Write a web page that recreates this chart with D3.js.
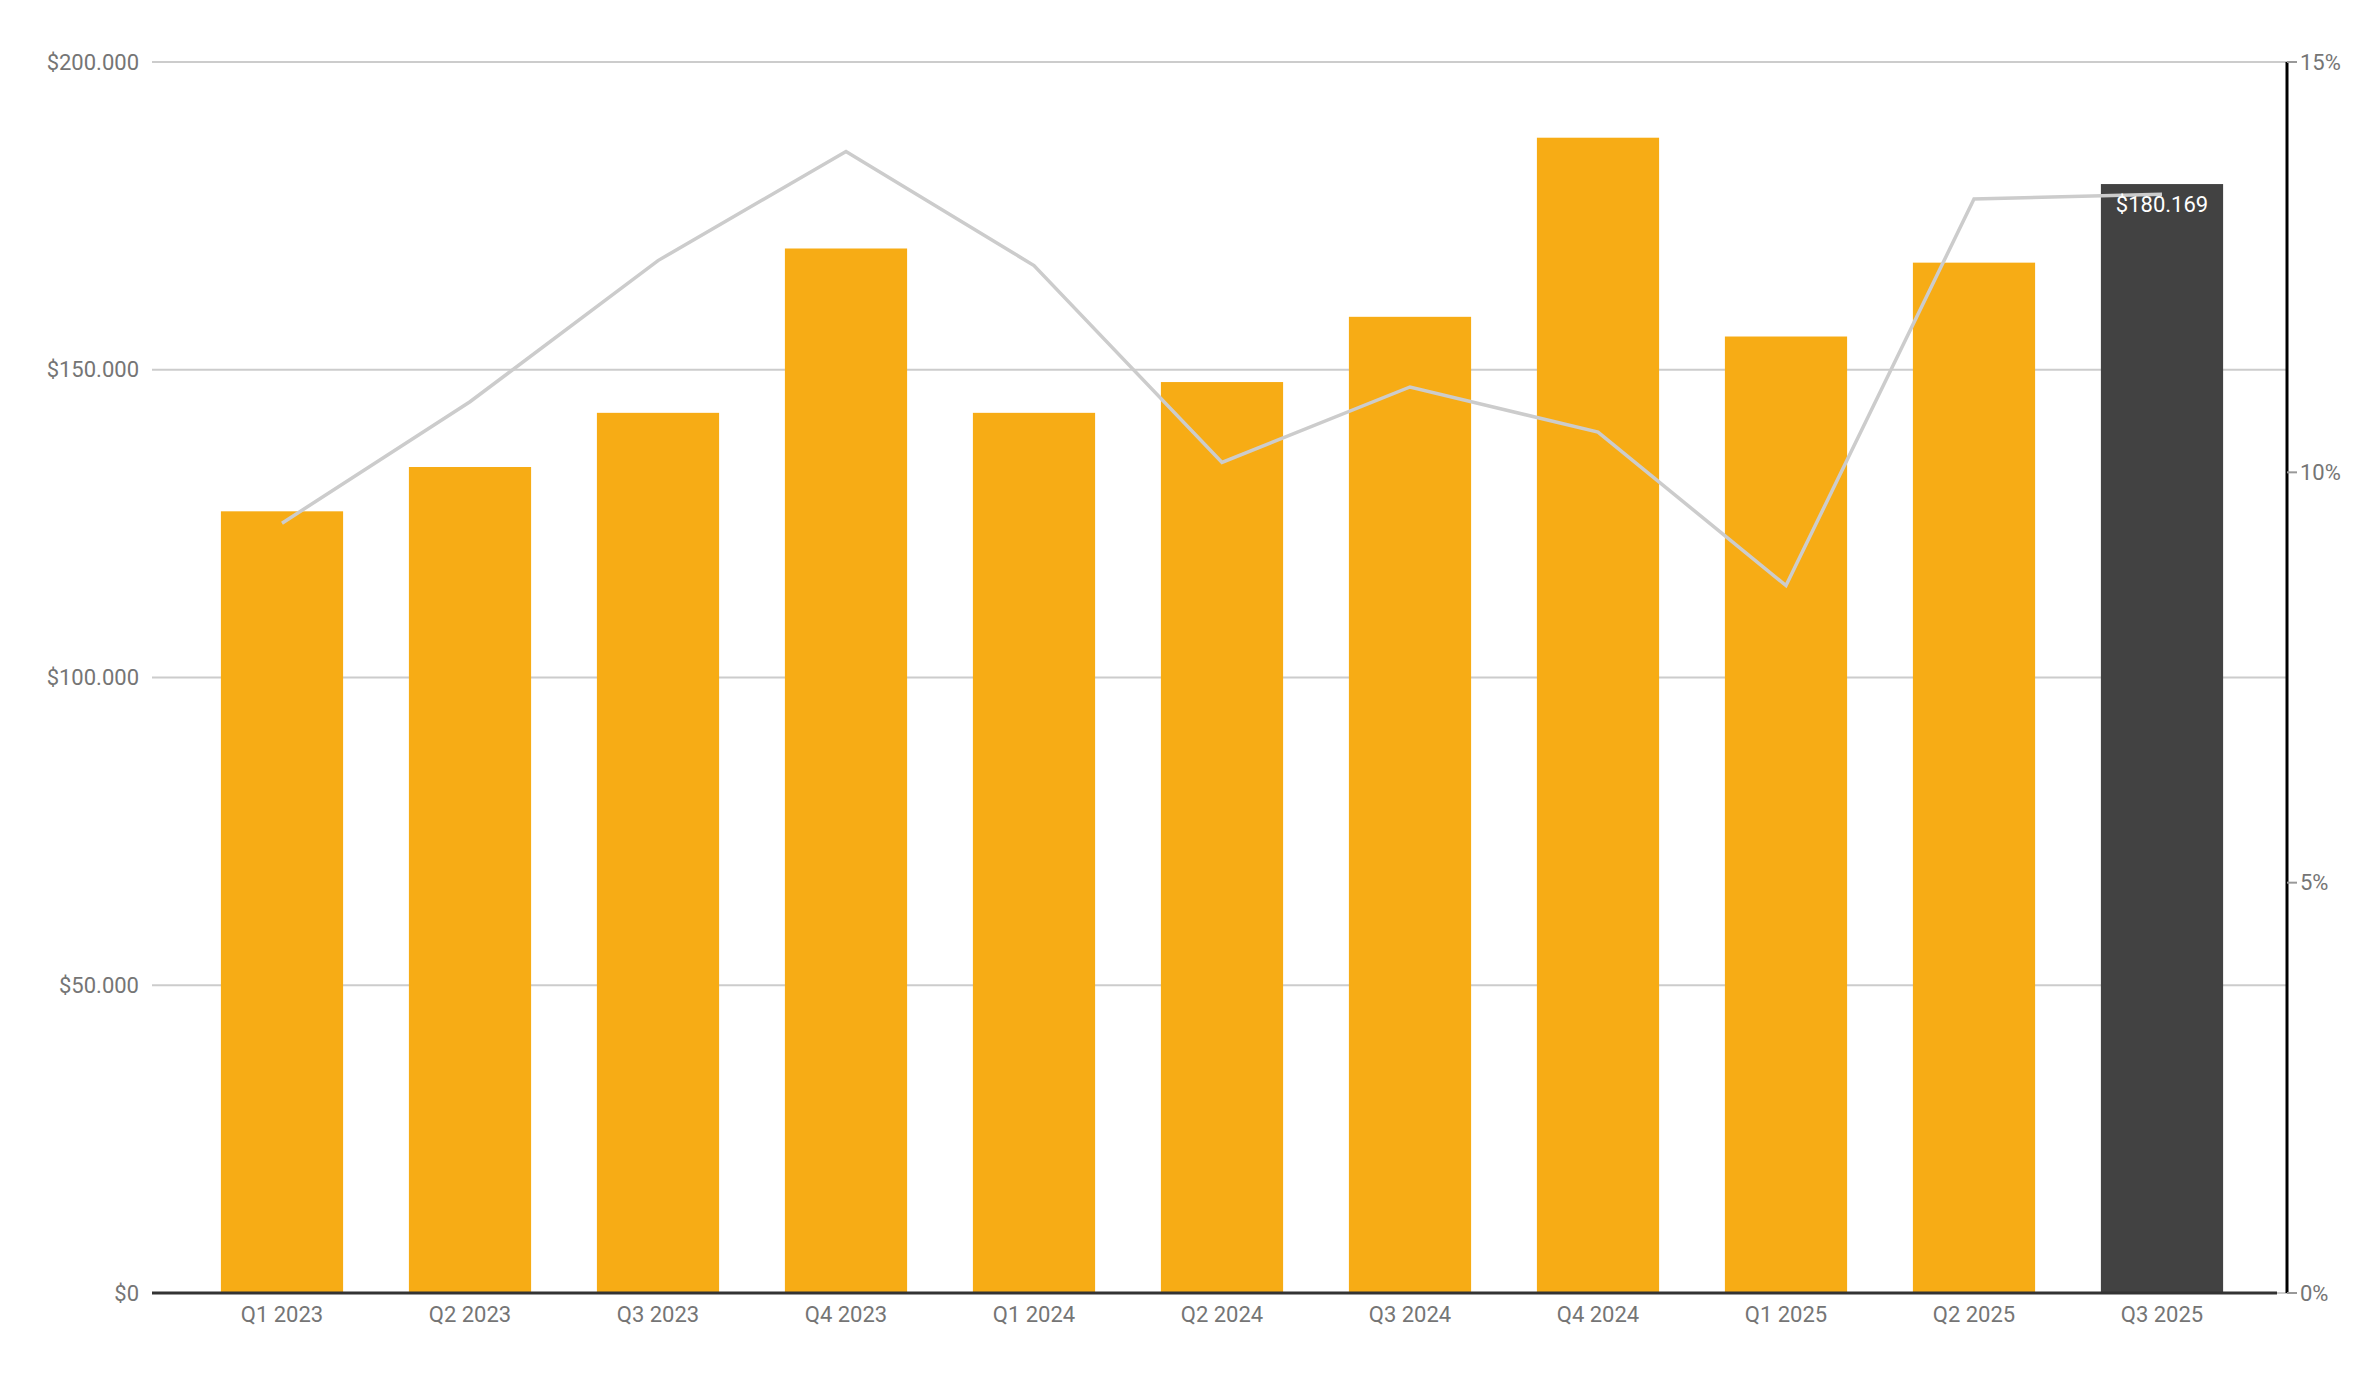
<!DOCTYPE html><html><head><meta charset="utf-8"><script src="https://cdn.jsdelivr.net/npm/d3@7"></script>
<style>body{margin:0;background:#fff}text{font-family:Roboto,sans-serif}</style></head><body><svg id="c" width="2376" height="1376"></svg>
<script>
const categories=["Q1 2023","Q2 2023","Q3 2023","Q4 2023","Q1 2024","Q2 2024","Q3 2024","Q4 2024","Q1 2025","Q2 2025","Q3 2025"];
const revenue=[127000,134200,143000,169700,143000,148000,158600,187700,155400,167400,180169];
const pct=[9.38,10.86,12.58,13.91,12.52,10.12,11.04,10.49,8.62,13.33,13.39];
const leftTicks=[0,50000,100000,150000,200000];
const rightTicks=[0,5,10,15];
const svg=d3.select("#c");
const L=152,R=2287,T=62,B=1293;
const x=d3.scaleBand().domain(categories).range([188,2256]).paddingInner(0.35).paddingOuter(0.175);
const y=d3.scaleLinear().domain([0,200000]).range([B,T]);
const y2=d3.scaleLinear().domain([0,15]).range([B,T]);
const fmt=v=>"$"+d3.format(",")(v).replace(/,/g,".");
svg.append("g").selectAll("line").data(leftTicks).join("line").attr("x1",L).attr("x2",R).attr("y1",d=>y(d)).attr("y2",d=>y(d)).attr("stroke","#cccccc").attr("stroke-width",2);
svg.append("g").selectAll("text").data(leftTicks).join("text").attr("x",139).attr("y",d=>y(d)).attr("dy","0.35em").attr("text-anchor","end").attr("font-size",22).attr("fill","#757575").text(fmt);
svg.append("g").selectAll("rect").data(categories).join("rect").attr("x",d=>x(d)).attr("width",x.bandwidth()).attr("y",(d,i)=>y(revenue[i])).attr("height",(d,i)=>B-y(revenue[i])).attr("fill",(d,i)=>i==categories.length-1?"#424242":"#f7ac15");
svg.append("path").datum(pct).attr("fill","none").attr("stroke","#cccccc").attr("stroke-width",3.5)
 .attr("d",d3.line().x((d,i)=>x(categories[i])+x.bandwidth()/2).y(d=>y2(d)));
const li=categories.length-1;
svg.append("text").attr("x",x(categories[li])+x.bandwidth()/2).attr("y",y(revenue[li])+28).attr("text-anchor","middle").attr("font-size",22).attr("fill","#fff").text(fmt(revenue[li]));
svg.append("line").attr("x1",L).attr("x2",R-10).attr("y1",B).attr("y2",B).attr("stroke","#333").attr("stroke-width",3);
svg.append("line").attr("x1",R).attr("x2",R).attr("y1",T).attr("y2",B).attr("stroke","#000").attr("stroke-width",3);
svg.append("g").selectAll("line").data(rightTicks).join("line").attr("x1",R).attr("x2",R+10).attr("y1",d=>y2(d)).attr("y2",d=>y2(d)).attr("stroke","#999").attr("stroke-width",2);
svg.append("g").selectAll("text").data(rightTicks).join("text").attr("x",2300).attr("y",d=>y2(d)).attr("dy","0.35em").attr("font-size",22).attr("fill","#757575").text(d=>d+"%");
svg.append("g").selectAll("text").data(categories).join("text").attr("x",d=>x(d)+x.bandwidth()/2).attr("y",1322).attr("text-anchor","middle").attr("font-size",22).attr("fill","#757575").text(d=>d);
</script></body></html>
